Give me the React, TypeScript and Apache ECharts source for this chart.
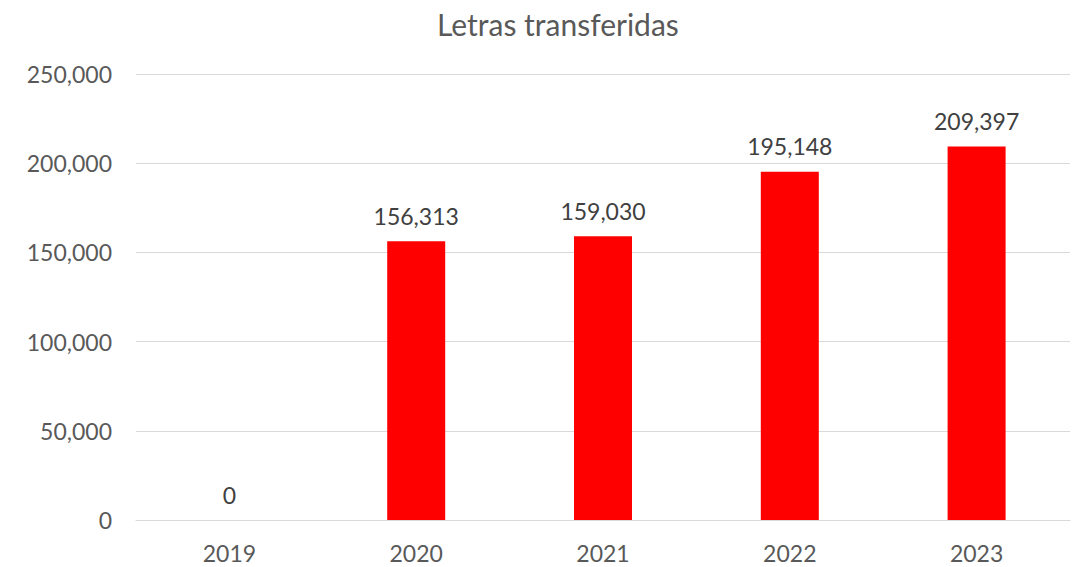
import React, { useEffect, useRef } from "react";
import * as echarts from "echarts";

const categories = ["2019", "2020", "2021", "2022", "2023"];
const values = [0, 156313, 159030, 195148, 209397];
const yTicks = [0, 50000, 100000, 150000, 200000, 250000];

const fmt = (v: number) => v.toLocaleString("en-US");

export default function App() {
  const ref = useRef<HTMLDivElement>(null);
  useEffect(() => {
    if (!ref.current) return;
    const chart = echarts.init(ref.current, null, { renderer: "svg" });
    chart.setOption({
      animation: false,
      backgroundColor: "#ffffff",
      title: {
        text: "Letras transferidas",
        left: 432,
        top: 4,
        textStyle: { fontFamily: "Lato", fontSize: 30, fontWeight: "normal", color: "#595959" },
      },
      grid: { left: 136, right: 9, top: 74, bottom: 47 },
      xAxis: {
        type: "category",
        data: categories,
        axisLine: { lineStyle: { color: "#d9d9d9", width: 1 } },
        axisTick: { show: false },
        axisLabel: { color: "#595959", fontFamily: "Lato", fontSize: 23, margin: 21 },
      },
      yAxis: {
        type: "value",
        min: yTicks[0],
        max: yTicks[yTicks.length - 1],
        interval: 50000,
        axisLine: { show: false },
        axisTick: { show: false },
        splitLine: { lineStyle: { color: "#d9d9d9", width: 1 } },
        axisLabel: {
          color: "#595959",
          fontFamily: "Lato",
          fontSize: 23,
          margin: 24,
          formatter: (v: number) => fmt(v),
        },
      },
      series: [
        {
          type: "bar",
          data: values,
          barWidth: 58,
          itemStyle: { color: "#ff0000" },
          label: {
            show: true,
            position: "top",
            distance: 14,
            color: "#404040",
            fontFamily: "Lato",
            fontSize: 23,
            formatter: (p: any) => fmt(p.value),
          },
        },
      ],
    });
    return () => chart.dispose();
  }, []);
  return <div ref={ref} style={{ width: 1079, height: 567, position: "absolute", left: 0, top: 0 }} />;
}
